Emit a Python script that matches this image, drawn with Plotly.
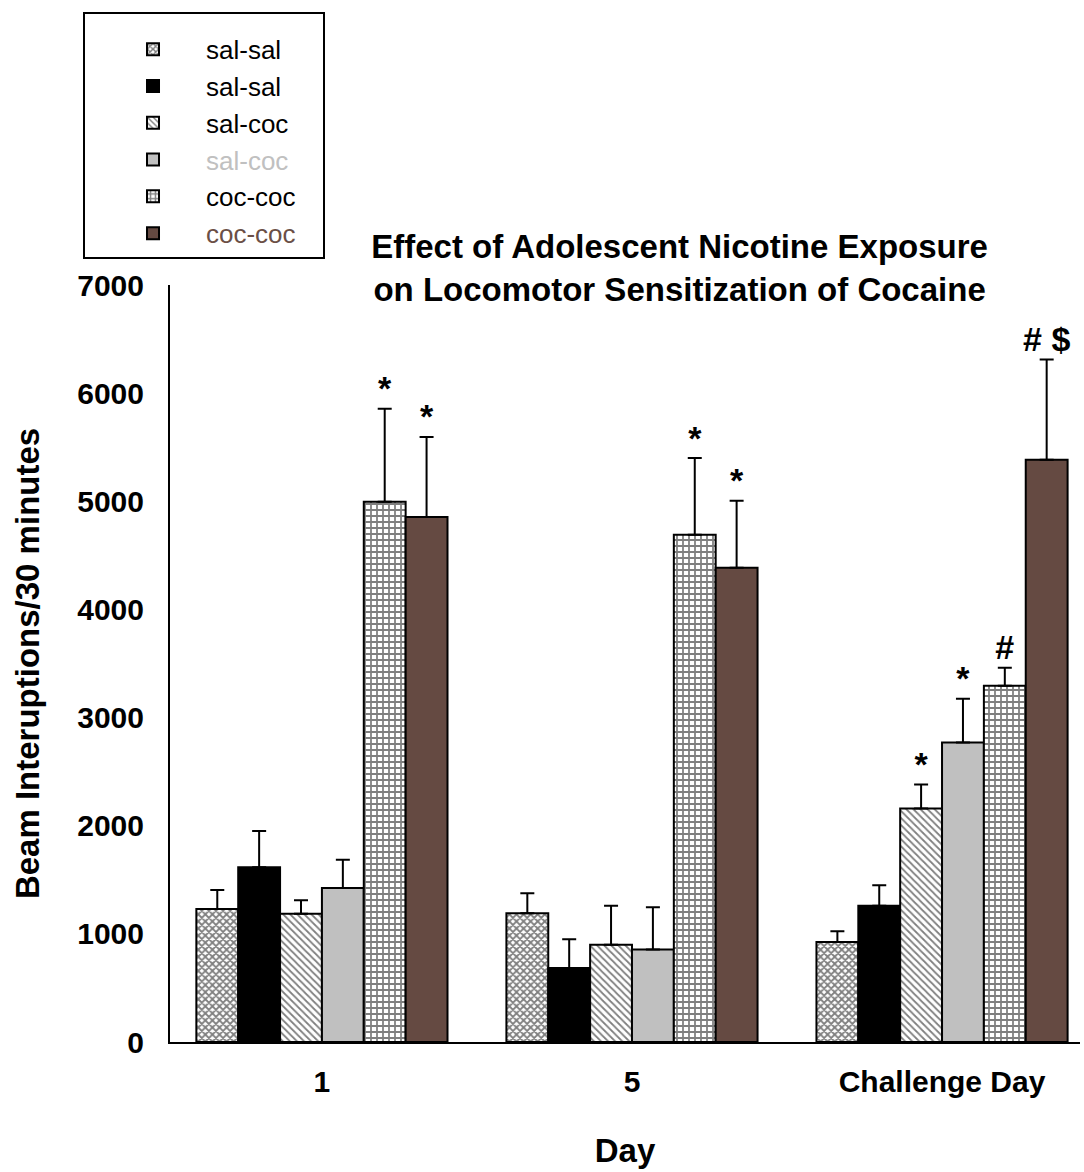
import plotly.graph_objects as go

days = ["1", "5", "Challenge Day"]

groups = ["sal-sal", "sal-sal", "sal-coc", "sal-coc", "coc-coc", "coc-coc"]
legend_colors = ["black", "black", "black", "#c0c0c0", "black", "#6b4f46"]

sal_sal_a = [1230, 1190, 925]
sal_sal_b = [1615, 685, 1260]
sal_coc_a = [1185, 900, 2160]
sal_coc_b = [1425, 855, 2770]
coc_coc_a = [4995, 4690, 3295]
coc_coc_b = [4855, 4385, 5385]

err_sal_sal_a = [175, 185, 100]
err_sal_sal_b = [335, 265, 190]
err_sal_coc_a = [125, 360, 220]
err_sal_coc_b = [260, 390, 405]
err_coc_coc_a = [860, 710, 165]
err_coc_coc_b = [740, 620, 925]

marks_sal_sal_a = ["", "", ""]
marks_sal_sal_b = ["", "", ""]
marks_sal_coc_a = ["", "", "*"]
marks_sal_coc_b = ["", "", "*"]
marks_coc_coc_a = ["*", "*", "#"]
marks_coc_coc_b = ["*", "*", "# $"]

values = [sal_sal_a, sal_sal_b, sal_coc_a, sal_coc_b, coc_coc_a, coc_coc_b]
errors = [err_sal_sal_a, err_sal_sal_b, err_sal_coc_a, err_sal_coc_b, err_coc_coc_a, err_coc_coc_b]
marks = [marks_sal_sal_a, marks_sal_sal_b, marks_sal_coc_a, marks_sal_coc_b, marks_coc_coc_a, marks_coc_coc_b]

fills = ["white", "black", "white", "#c0c0c0", "white", "#654a42"]
patterns = [
    dict(shape="x", fgcolor="black", bgcolor="white", size=5, solidity=0.6),
    dict(shape=""),
    dict(shape="\\", fgcolor="black", bgcolor="white", size=5, solidity=0.35),
    dict(shape=""),
    dict(shape="+", fgcolor="black", bgcolor="white", size=6, solidity=0.5),
    dict(shape=""),
]

font = "Arial, Liberation Sans, sans-serif"
pad = "\u00a0\u00a0\u00a0"  # a little room on the right of the legend text

fig = go.Figure()
for i, (name, vals, errs) in enumerate(zip(groups, values, errors)):
    fig.add_trace(go.Bar(
        x=days, y=vals,
        name=f'<span style="color:{legend_colors[i]}">{name}</span>{pad}',
        offsetgroup=str(i),
        marker=dict(color=fills[i], line=dict(color="black", width=2), pattern=patterns[i]),
        error_y=dict(type="data", array=errs, arrayminus=[0] * len(errs), symmetric=False,
                     color="black", thickness=2, width=7),
    ))

# significance markers sit on top of the error bars
for i, (vals, errs, m) in enumerate(zip(values, errors, marks)):
    fig.add_trace(go.Scatter(
        x=days, y=[v + e for v, e in zip(vals, errs)],
        text=m, mode="text", textposition="top center",
        textfont=dict(family=font, size=34, color="black", weight="bold"),
        offsetgroup=str(i), showlegend=False, hoverinfo="skip",
    ))

fig.update_layout(
    width=1084, height=1172,
    template="simple_white",
    barmode="group", scattermode="group",
    bargap=0.19, bargroupgap=0,
    margin=dict(l=170, r=4, t=285, b=130, autoexpand=False),
    font=dict(family=font, color="black"),
    title=dict(
        text="<b>Effect of Adolescent Nicotine Exposure<br>on Locomotor Sensitization of Cocaine</b>",
        x=0.56, xref="paper", xanchor="center", y=0.78, yanchor="middle",
        font=dict(size=33, family=font, color="black"),
    ),
    legend=dict(
        x=-0.0956, y=1.3606, xanchor="left", yanchor="top",
        bordercolor="black", borderwidth=2,
        font=dict(size=26, family=font),
        title=dict(text="\u00a0", font=dict(size=9)),
        itemwidth=96, indentation=15,
    ),
    xaxis=dict(
        range=[-0.49, 2.445], showline=True, linewidth=2, linecolor="black",
        ticks="", tickfont=dict(size=30, weight="bold"), ticklabelstandoff=12,
        title=dict(text="<b>Day</b>", font=dict(size=33), standoff=42),
        automargin=False,
    ),
    yaxis=dict(
        range=[0, 7000], tickvals=[0, 1000, 2000, 3000, 4000, 5000, 6000, 7000],
        showline=True, linewidth=2, linecolor="black", ticks="",
        tickfont=dict(size=30, weight="bold"), ticklabelstandoff=18,
        title=dict(text="<b>Beam Interuptions/30 minutes</b>", font=dict(size=33), standoff=28),
        automargin=False,
    ),
)

fig.write_html("out.html", config={"displayModeBar": False},
               post_script="document.body.style.margin = '0';")
